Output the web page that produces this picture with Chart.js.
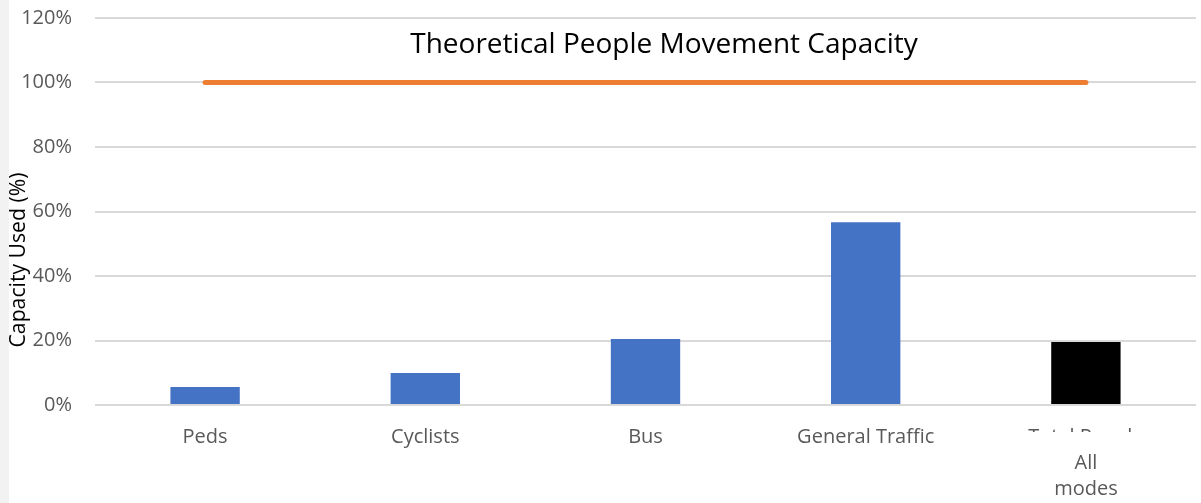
<!DOCTYPE html>
<html>
<head>
<meta charset="utf-8">
<script src="https://cdn.jsdelivr.net/npm/chart.js@4"></script>
<style>
  html, body { margin: 0; padding: 0; background: #fff; }
  #wrap { width: 1201px; height: 503px; }
</style>
</head>
<body>
<div id="wrap"><canvas id="myChart" width="1201" height="503"></canvas></div>
<script>
const categories = ['Peds', 'Cyclists', 'Bus', 'General Traffic', ['Total People', 'All', 'modes']];
const capacityUsed = [5.6, 9.9, 20.5, 56.7, 19.5];
const theoreticalCapacity = [100, 100, 100, 100, 100];
const barColors = ['#4472C4', '#4472C4', '#4472C4', '#4472C4', '#000000'];
const yTicks = [0, 20, 40, 60, 80, 100, 120];

const chartTitle = 'Theoretical People Movement Capacity';
const yTitle = 'Capacity Used (%)';

// pick a font size so the text is about as wide as in the original
function fitFont(ctx, text, width, family) {
    let size = 30;
    ctx.font = size + 'px ' + family;
    size = size * width / ctx.measureText(text).width;
    return size.toFixed(1) + 'px ' + family;
}

// left grey strip, title inside plot, y title over the ticks
const extras = {
    id: 'extras',
    beforeDraw(chart) {
        const ctx = chart.ctx;
        ctx.save();
        ctx.fillStyle = '#f2f2f2';
        ctx.fillRect(0, 0, 9, chart.height);
        ctx.restore();
    },
    afterDraw(chart) {
        const ctx = chart.ctx;
        ctx.save();
        // hide lower part of the first line of the last label, like the original
        ctx.fillStyle = '#fff';
        ctx.fillRect(1010, 432, 150, 17);

        ctx.fillStyle = '#000';
        ctx.font = fitFont(ctx, chartTitle, 507, '"Open Sans", sans-serif');
        ctx.textAlign = 'center';
        ctx.textBaseline = 'middle';
        ctx.fillText(chartTitle, 664, 45);

        ctx.translate(19, 260);
        ctx.rotate(-Math.PI / 2);
        ctx.font = fitFont(ctx, yTitle, 175, '"Open Sans", sans-serif');
        ctx.fillText(yTitle, 0, 0);
        ctx.restore();
    }
};

let ctx = document.getElementById('myChart').getContext('2d');
let myChart = new Chart(ctx, {
    data: {
        labels: categories,
        datasets: [{
            type: 'line',
            label: 'Capacity',
            data: theoreticalCapacity,
            borderColor: '#ED7D31',
            borderWidth: 5,
            borderCapStyle: 'round',
            pointRadius: 0,
            fill: false,
            order: 0
        }, {
            type: 'bar',
            label: 'Capacity Used',
            data: capacityUsed,
            backgroundColor: barColors,
            borderWidth: 0,
            categoryPercentage: 1,
            barPercentage: 0.315,
            order: 1
        }]
    },
    options: {
        responsive: false,
        animation: false,
        layout: { padding: { top: 18, right: 5, left: 0, bottom: 0 } },
        plugins: {
            legend: { display: false },
            tooltip: { enabled: false }
        },
        scales: {
            x: {
                grid: { display: false },
                border: { display: false },
                ticks: {
                    color: '#595959',
                    font: { family: '"Open Sans", sans-serif', size: 20, lineHeight: 1.3 },
                    padding: 11,
                    maxRotation: 0,
                    autoSkip: false
                },
                afterFit(scale) {
                    scale.height = 98;
                    scale.paddingLeft = 0;
                    scale.paddingRight = 0;
                }
            },
            y: {
                min: 0,
                max: 120,
                afterBuildTicks(scale) { scale.ticks = yTicks.map(v => ({ value: v })); },
                grid: { color: '#d9d9d9', lineWidth: 2, drawTicks: false },
                border: { display: false },
                ticks: {
                    color: '#595959',
                    font: { family: '"Open Sans", sans-serif', size: 20 },
                    padding: 23,
                    callback: v => v + '%'
                },
                afterFit(scale) {
                    scale.width = 95;
                    scale.paddingTop = 0;
                    scale.paddingBottom = 0;
                }
            }
        }
    },
    plugins: [extras]
});
</script>
</body>
</html>
